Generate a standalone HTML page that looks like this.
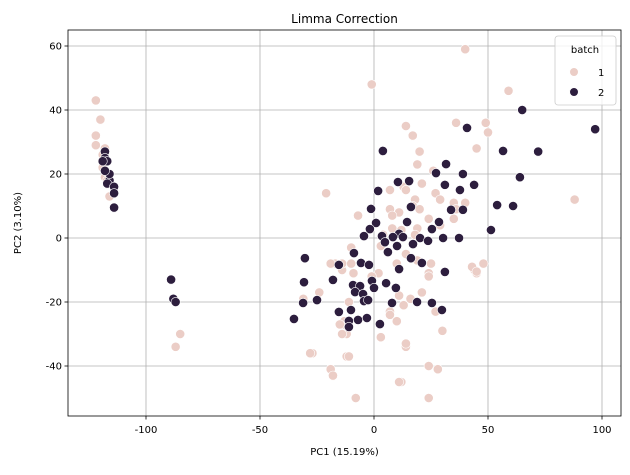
<!DOCTYPE html>
<html><head><meta charset="utf-8"><style>
body{margin:0;background:#fff;font-family:"Liberation Sans","DejaVu Sans",sans-serif}
svg text{font-family:"DejaVu Sans","Liberation Sans",sans-serif}
</style></head><body>
<svg id="chart" width="630" height="470" xmlns="http://www.w3.org/2000/svg"></svg>
<script>
const xTicks=[-100,-50,0,50,100];
const yTicks=[-40,-20,0,20,40,60];
const batchLabels=["1","2"];
const batch1X=[-122,-120,-122,-122,-118,-119,-118,-116,-117,-119,-85,-87,-21,-7,-1,40,59,88,44,45,48,
-27,-19,-18,-12,-8,3,14,12,24,24,28,30,-17,-10,-14,-11,-13,-12,-24,
-10,3,-19,-14,-9,2,-1,14,10,19,25,24,24,43,45,-31,11,16,21,13,7,7,27,-13,-15,10,-14,3,14,-28,-11,-19,-18,11,24,28,-8,24,
14,17,36,49,50,45,20,19,26,21,13,14,7,27,29,18,17,20,7,35,40,36,11,8,35,24,8,19,29,4,18,12];
const batch1Y=[43,37,32,29,28,22,19,13,18,26,-30,-34,14,7,48,59,46,12,-10,-11,-8,
-36,-41,-43,-37,-50,-31,-34,-45,-40,-50,-41,-29,-8,-8,-10,-20,-27,-30,-17,
-3,-2.5,-8,-8,-11,-11,-12,-5,-8,-7,-8,-11,-12,-9,-10.5,-19,-18,-19,-17,-21,-23,-24,-23,-26,-27,-26,-30,-31,-33,-36,-37,-41,-43,-45,-40,-41,-50,-50,
35,32,36,36,33,28,27,23,21,17,16,15,15,14,12,12,10,9,9,11,11,9,8,7,6,6,3,3,4,1,1,2.5];
const batch2X=[-118,-118,-117,-116,-117,-116,-114,-114,-114,-119,-118,-89,-88,-87,
40.8,3.9,56.6,31.6,27.2,39,10.5,15.4,31.1,43.9,37.7,1.8,-1.3,33.8,39,54,16.2,0.9,14.5,28.5,-1.8,25.4,51.3,-4.4,3.5,11,8.3,12.7,20.2,23.7,30.3,37.3,4.8,10.1,17.1,
-30.3,-8.8,6.1,16.2,-5.7,-2.2,-15.4,21,11,31.1,-30.7,-18,-9.2,-6.1,-0.9,5.3,9.6,0,-8.3,-4.8,-4.4,-2.6,-25,-31.1,7.9,18.9,25.4,29.8,-15.4,-10.1,-11,-7,-3.1,-11,2.6,-35.1,
65,97,72,64,61];
const batch2Y=[27,25,24,18,17,20,16,14,9.5,24,21,-13,-19,-20,
34.4,27.2,27.2,23.1,20.3,20,17.5,17.8,16.6,16.6,15,14.7,9.1,8.8,8.8,10.3,9.7,4.7,5,5,2.8,2.8,2.5,0.6,0.6,1.3,0.3,0.3,0,-0.9,0,0,-1.3,-2.5,-1.9,
-6.3,-4.7,-4.4,-6.3,-7.8,-8.4,-8.4,-7.8,-9.7,-10.6,-13.8,-13.1,-14.7,-15,-13.4,-14.1,-15.6,-15.6,-16.9,-17.5,-19.7,-19.4,-19.4,-20.3,-20.3,-20,-20.3,-22.5,-23.1,-22.5,-25.9,-25.6,-25,-27.8,-26.9,-25.3,
40,34,27,19,10];

const NS="http://www.w3.org/2000/svg";
const svg=document.getElementById('chart');
const L=68,R=621,T=30,B=416;
const sx=v=>374+v*2.28, sy=v=>238-v*3.2;
function el(tag,attrs,parent){const e=document.createElementNS(NS,tag);for(const k in attrs)e.setAttribute(k,attrs[k]);(parent||svg).appendChild(e);return e;}
function txt(s,attrs){const t=el('text',attrs);t.textContent=s;return t;}

const grid=el('g',{});


xTicks.forEach(v=>{
  el('line',{x1:sx(v),x2:sx(v),y1:T,y2:B,stroke:'#b0b0b0','stroke-width':0.8},grid);
  el('line',{x1:sx(v),x2:sx(v),y1:B,y2:B+3.5,stroke:'#000','stroke-width':0.8});
  const t=txt(v,{x:sx(v),y:B+17,'font-size':10,'text-anchor':'middle',fill:'#000'});
  
  
});
yTicks.forEach(v=>{
  el('line',{x1:L,x2:R,y1:sy(v),y2:sy(v),stroke:'#b0b0b0','stroke-width':0.8},grid);
  el('line',{x1:L-3.5,x2:L,y1:sy(v),y2:sy(v),stroke:'#000','stroke-width':0.8});
  const t=txt(v,{x:L-6,y:sy(v)+3.5,'font-size':10,'text-anchor':'end',fill:'#000'});
  
  
});
function series(xs,ys,color,name){
  const g=el('g',{});
  
  
  xs.forEach((x,i)=>{
    const c=el('circle',{cx:sx(x),cy:sy(ys[i]),r:4.6,fill:color,stroke:'#fff','stroke-width':0.6},g);
    
    
  });
}
series(batch1X,batch1Y,'#ebcdc6','series-batch-1');
series(batch2X,batch2Y,'#2d1e3e','series-batch-2');
const frame=el('rect',{x:L,y:T,width:R-L,height:B-T,fill:'none',stroke:'#000','stroke-width':0.8});


const title=txt('Limma Correction',{x:(L+R)/2,y:23,'font-size':12,'text-anchor':'middle'});


const xl=txt('PC1 (15.19%)',{x:(L+R)/2,y:455,'font-size':10,'text-anchor':'middle'});


const yl=txt('PC2 (3.10%)',{x:0,y:0,'font-size':10,'text-anchor':'middle',transform:'translate(21,'+((T+B)/2)+') rotate(-90)'});


const lg=el('g',{});


el('rect',{x:555,y:36,width:61,height:69,rx:3,fill:'#fff','fill-opacity':0.8,stroke:'#ccc','stroke-width':0.8},lg);
const lt=el('text',{x:585,y:53,'font-size':10,'text-anchor':'middle'},lg);lt.textContent='batch';
const colors=['#ebcdc6','#2d1e3e'];
batchLabels.forEach((b,i)=>{
  const e=el('g',{},lg);
  
  
  el('circle',{cx:574,cy:72+i*20,r:4.3,fill:colors[i],stroke:'#fff','stroke-width':0.6},e);
  const t=el('text',{x:598,y:76+i*20,'font-size':10},e);t.textContent=b;
});
</script>
</body></html>
